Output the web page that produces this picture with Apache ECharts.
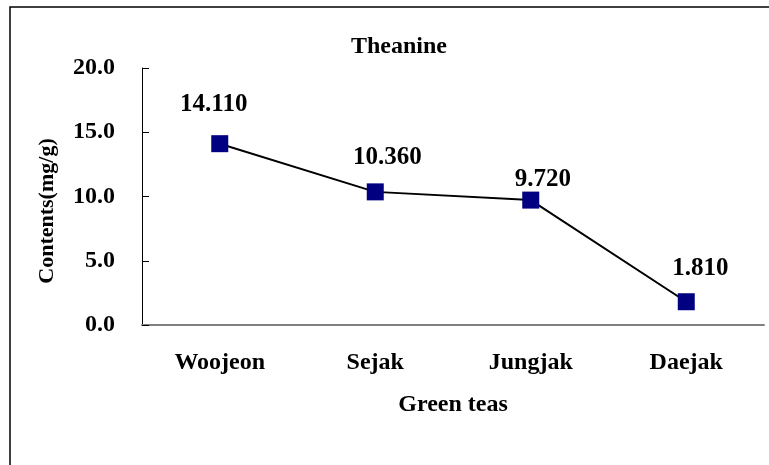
<!DOCTYPE html>
<html>
<head>
<meta charset="utf-8">
<script src="https://cdn.jsdelivr.net/npm/echarts@6/dist/echarts.min.js"></script>
<style>
  html, body { margin: 0; padding: 0; background: #fff; }
  #chart { width: 769px; height: 465px; }
</style>
</head>
<body>
<div id="chart"></div>
<script>
// Theanine content of green tea grades
const categories = ['Woojeon', 'Sejak', 'Jungjak', 'Daejak'];
const theanine = [14.110, 10.360, 9.720, 1.810];
const yTicks = [0, 5, 10, 15, 20];

// per-point label nudges (dx, dy) relative to the marker centre
const labelOffsets = [[-6, -39], [12, -34], [12, -21], [14, -33]];

const FONT = '"Liberation Serif", "Times New Roman", serif';
const chart = echarts.init(document.getElementById('chart'));

chart.setOption({
  animation: false,
  backgroundColor: '#fff',
  title: {
    text: 'Theanine',
    left: 346,
    top: 30,
    textStyle: { fontFamily: FONT, fontWeight: 'bold', fontSize: 24, color: '#000' }
  },
  grid: { left: 142, top: 68, right: 5, bottom: 140 },
  xAxis: {
    type: 'category',
    data: categories,
    boundaryGap: true,
    name: 'Green teas',
    nameLocation: 'middle',
    nameGap: 68,
    nameTextStyle: { fontFamily: FONT, fontWeight: 'bold', fontSize: 24, color: '#000' },
    axisLine: { lineStyle: { color: '#808080', width: 2 } },
    axisTick: { inside: true, length: 7, lineStyle: { color: '#000', width: 1 } },
    axisLabel: { margin: 26, fontFamily: FONT, fontWeight: 'bold', fontSize: 24, color: '#000' },
    splitLine: { show: false }
  },
  yAxis: {
    type: 'value',
    min: yTicks[0],
    max: yTicks[yTicks.length - 1],
    interval: yTicks[1] - yTicks[0],
    axisLine: { show: true, lineStyle: { color: '#000', width: 1 } },
    axisTick: { show: true, inside: true, length: 7, lineStyle: { color: '#000', width: 1 } },
    axisLabel: {
      margin: 27,
      fontFamily: FONT, fontWeight: 'bold', fontSize: 24, color: '#000',
      formatter: v => v.toFixed(1)
    },
    splitLine: { show: false }
  },
  graphic: [
    {
      type: 'rect',
      shape: { x: 10, y: 7, width: 820, height: 520 },
      style: { fill: 'none', stroke: '#000', lineWidth: 1.5 },
      silent: true, z: 0
    },
    {
      type: 'text',
      x: 47, y: 211,
      rotation: Math.PI / 2,
      style: {
        text: 'Contents(mg/g)',
        fontFamily: FONT, fontWeight: 'bold', fontSize: 22, fill: '#000',
        align: 'center', verticalAlign: 'middle'
      }
    }
  ],
  series: [{
    type: 'line',
    data: theanine.map((v, i) => ({
      value: v,
      label: { offset: labelOffsets[i] }
    })),
    symbol: 'rect',
    symbolSize: 17,
    itemStyle: { color: '#000080' },
    lineStyle: { color: '#000', width: 2 },
    label: {
      show: true,
      position: 'inside',
      formatter: p => p.value.toFixed(3),
      fontFamily: FONT, fontWeight: 'bold', fontSize: 25, color: '#000'
    }
  }]
});
</script>
</body>
</html>
